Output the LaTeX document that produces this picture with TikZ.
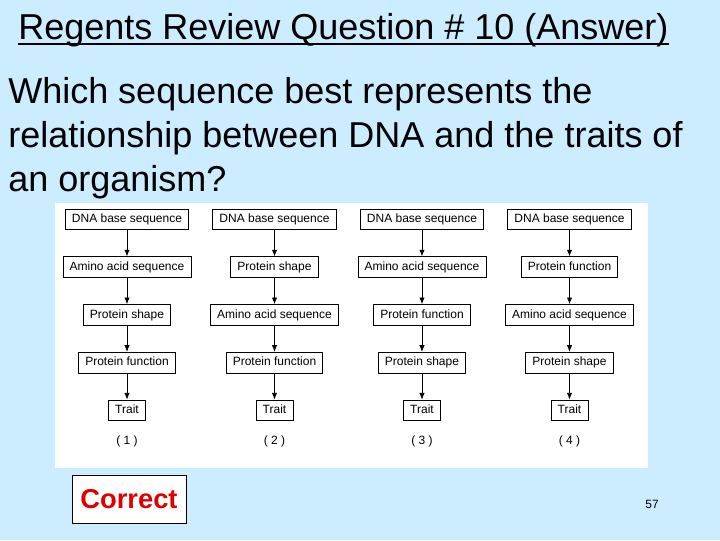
\documentclass[tikz,border=0pt]{standalone}
\usepackage{fontspec}
\setmainfont{Liberation Sans}
\usetikzlibrary{arrows.meta}
\definecolor{slidebg}{HTML}{CCECFF}
\definecolor{answer}{HTML}{E00000}

\begin{document}
\begin{tikzpicture}[x=0.75pt,y=-0.75pt,
  dep/.style={
    -{Latex[length=5pt,width=4pt]},line width=0.6pt
  },
  seqbox/.style={
    rectangle,
    draw=black,
    line width=0.6pt,
    fill=white,
    font=\fontsize{9}{10}\selectfont,
    inner xsep=5pt,
    inner ysep=0pt,
    text height=7pt,
    text depth=2pt,
    minimum height=15.5pt},
  choice/.style={
    font=\fontsize{9}{10}\selectfont},
  answerbox/.style={
    rectangle,
    draw=black,
    line width=0.6pt,
    fill=white,
    minimum width=85.5pt,
    minimum height=36pt,
    text=answer,
    font=\fontsize{20.5}{24}\selectfont\bfseries},
]

  \def\colbase{127}%
  \def\colstep{147.5}%
  \def\rowbase{219.5}%
  \def\rowstep{47.7}%

  % slide background and picture panel
  \useasboundingbox[fill=slidebg] (0,0) rectangle (720,540);
  \fill[white] (55,203) rectangle (648,468);

  % title and question
  \node[anchor=base west,inner sep=0pt,font=\fontsize{27}{32}\selectfont]
    (title) at (18,39) {Regents Review Question \# 10 (Answer)};
  \draw[line width=1.5pt] ([yshift=-4pt]title.base west)
    -- ([yshift=-4pt]title.base east);

  \node[anchor=north west,inner sep=0pt,align=left,
    font=\fontsize{27}{33}\selectfont] (question) at (8,77)
    {Which sequence best represents the\\
     relationship between DNA and the traits of\\
     an organism?};

  % the four sequences
  \foreach \col/\second/\third/\fourth in {
      1/Amino acid sequence/Protein shape/Protein function,
      2/Protein shape/Amino acid sequence/Protein function,
      3/Amino acid sequence/Protein function/Protein shape,
      4/Protein function/Amino acid sequence/Protein shape} {
    \pgfmathsetmacro{\cx}{\colbase + \colstep*(\col-1)}
    \node[seqbox] (dna_\col) at (\cx, \rowbase) {DNA base sequence};
    \node[seqbox] (second_\col) at (\cx, \rowbase + \rowstep) {\second};
    \node[seqbox] (third_\col) at (\cx, \rowbase + 2*\rowstep) {\third};
    \node[seqbox] (fourth_\col) at (\cx, \rowbase + 3*\rowstep) {\fourth};
    \node[seqbox] (trait_\col) at (\cx, \rowbase + 4*\rowstep) {Trait};
    \node[choice] (choice_\col) at (\cx, 441) {( \col\ )};

    \draw[dep] (dna_\col) -- (second_\col);
    \draw[dep] (second_\col) -- (third_\col);
    \draw[dep] (third_\col) -- (fourth_\col);
    \draw[dep] (fourth_\col) -- (trait_\col);
  }

  % answer and slide number
  \node[answerbox] (correct) at (129,499) {Correct};
  \node[font=\fontsize{9}{10}\selectfont] (slidenum) at (652,504) {57};

\end{tikzpicture}
\end{document}
